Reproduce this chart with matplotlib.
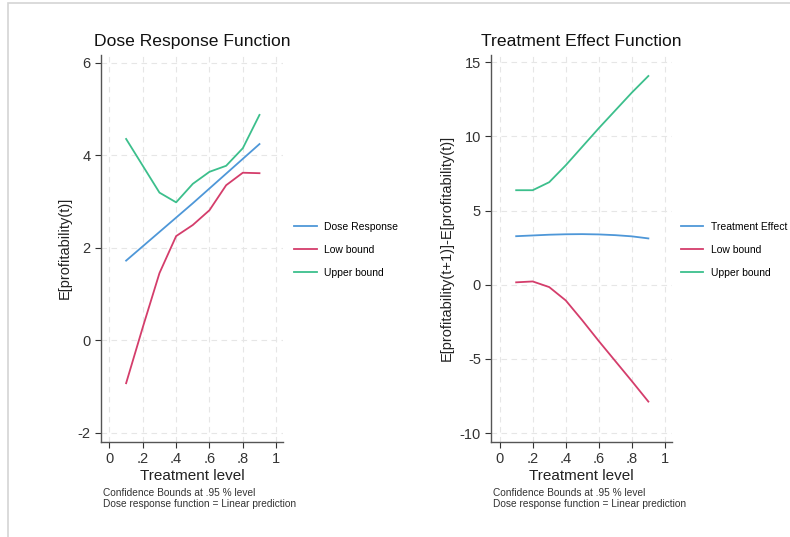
import numpy as np
import matplotlib.pyplot as plt
from matplotlib.patches import Rectangle

plt.rcParams['font.family'] = ['Liberation Sans', 'DejaVu Sans']
plt.rcParams['axes.unicode_minus'] = False

# treatment levels
t_level = [0.1, 0.2, 0.3, 0.4, 0.5, 0.6, 0.7, 0.8, 0.9]

# dose response function
dose_resp = [1.72, 2.03, 2.34, 2.65, 2.96, 3.28, 3.60, 3.92, 4.24]
dose_low = [-0.93, 0.28, 1.45, 2.25, 2.49, 2.81, 3.35, 3.62, 3.61]
dose_up = [4.35, 3.77, 3.19, 2.98, 3.38, 3.64, 3.77, 4.15, 4.87]

# treatment effect function
te_resp = [3.27, 3.32, 3.37, 3.40, 3.41, 3.39, 3.34, 3.26, 3.12]
te_low = [0.16, 0.22, -0.16, -1.06, -2.40, -3.80, -5.15, -6.50, -7.88]
te_up = [6.37, 6.37, 6.91, 8.05, 9.30, 10.55, 11.75, 12.95, 14.07]

xticks = [0, 0.2, 0.4, 0.6, 0.8, 1]
xticklabels = ['0', '.2', '.4', '.6', '.8', '1']

c_blue = '#4E97D8'
c_red = '#D43D6B'
c_green = '#3CBF8C'

fig = plt.figure(figsize=(7.9, 5.37), dpi=100)

# thin grey frame at top/left like the screenshot
fig.add_artist(Rectangle((8 / 790, -0.01), 1.0, 1 - 3 / 537 + 0.01,
                         transform=fig.transFigure, fill=False,
                         edgecolor='#d4d4d4', linewidth=1.2))

ax1 = fig.add_axes([0.128, 0.177, 0.230, 0.721])
ax2 = fig.add_axes([0.622, 0.177, 0.228, 0.721])


def style_axes(ax, yticks, ylim, ylabel, title, names, ys, leg_x):
    ax.plot(t_level, ys[0], color=c_blue, lw=1.3, label=names[0])
    ax.plot(t_level, ys[1], color=c_red, lw=1.3, label=names[1])
    ax.plot(t_level, ys[2], color=c_green, lw=1.3, label=names[2])
    ax.set_xlim(-0.05, 1.04)
    ax.set_ylim(*ylim)
    ax.set_xticks(xticks)
    ax.set_xticklabels(xticklabels)
    ax.set_yticks(yticks)
    ax.grid(True, color='#e6e6e6', linestyle=(0, (5, 4)), linewidth=0.8)
    ax.set_axisbelow(True)
    for s in ['top', 'right']:
        ax.spines[s].set_visible(False)
    for s in ['left', 'bottom']:
        ax.spines[s].set_color('#555555')
        ax.spines[s].set_linewidth(1.0)
    ax.tick_params(colors='#333333', labelsize=10.5, length=4, width=0.8, direction='out')
    ax.set_xlabel('Treatment level', fontsize=11, color='#222222', labelpad=2)
    ax.set_ylabel(ylabel, fontsize=10.5, color='#222222', labelpad=4)
    ax.set_title(title, fontsize=12.6, color='#111111', pad=6)
    ax.legend(loc='center left', bbox_to_anchor=(leg_x, 0.497), frameon=False,
              fontsize=7.5, handlelength=2.2, labelspacing=1.25, handletextpad=0.7,
              borderaxespad=0, borderpad=0)
    ax.text(0.01, -0.118, 'Confidence Bounds at .95 % level\nDose response function = Linear prediction',
            transform=ax.transAxes, fontsize=7.3, color='#333333', va='top', linespacing=1.15)


style_axes(ax1, [-2, 0, 2, 4, 6], (-2.2, 6.17), 'E[profitability(t)]',
           'Dose Response Function', ['Dose Response', 'Low bound', 'Upper bound'],
           [dose_resp, dose_low, dose_up], 1.06)
style_axes(ax2, [-10, -5, 0, 5, 10, 15], (-10.6, 15.5), 'E[profitability(t+1)]-E[profitability(t)]',
           'Treatment Effect Function', ['Treatment Effect', 'Low bound', 'Upper bound'],
           [te_resp, te_low, te_up], 1.05)

fig.savefig('out.png', dpi=100)
